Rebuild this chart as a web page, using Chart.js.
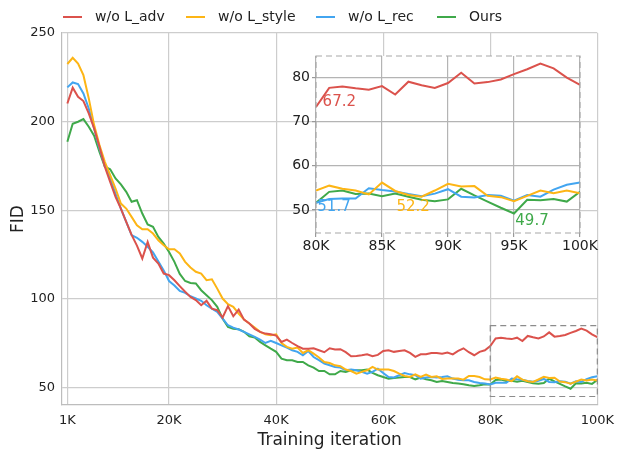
<!DOCTYPE html>
<html lang="en">
<head>
  <meta charset="UTF-8">
  <title>FID vs training iteration</title>
  <script src="https://cdn.jsdelivr.net/npm/chart.js"></script>
  <style>
    body { margin: 0; background: #fff; }
    #wrap { position: relative; width: 622px; height: 449px; }
    #inset { position: absolute; left: 270px; top: 40px; }
  </style>
</head>
<body>
  <div id="wrap">
    <canvas id="mainChart" width="622" height="449"></canvas>
    <canvas id="inset" width="330" height="215"></canvas>
  </div>

  <script>
    // iterations in thousands (1K ... 100K)
    const iterations = Array.from({length: 100}, (_, i) => i + 1);

    const seriesNames = ['w/o L_adv', 'w/o L_style', 'w/o L_rec', 'Ours'];
    const seriesColors = ['#db524c', '#fdb515', '#42a5f0', '#3fa94a'];

    const fidAdv = [
      210.2, 219.1, 214.0, 211.6, 204.6, 196.1, 185.8, 174.5, 166.0, 157.5,
      150.9, 143.4, 136.0, 130.0, 122.7, 132.1, 123.2, 119.8, 114.2, 113.3,
      110.4, 107.1, 103.9, 101.0, 99.2, 96.3, 98.8, 94.4, 93.5, 89.4,
      95.8, 90.1, 93.9, 88.2, 86.0, 83.0, 81.3, 80.3, 79.9, 79.2,
      75.6, 76.9, 75.0, 73.2, 71.8, 71.7, 72.0, 70.9, 69.8, 72.0,
      71.3, 71.5, 69.8, 67.5, 67.7, 68.1, 68.6, 67.5, 68.3, 70.5,
      70.9, 70.0, 70.5, 70.9, 69.4, 67.2, 68.6, 68.6, 69.4, 69.4,
      69.0, 69.6, 68.6, 70.5, 72.0, 69.8, 68.1, 70.0, 70.9, 73.3,
      77.6, 77.9, 77.5, 77.2, 78.0, 76.1, 79.0, 78.2, 77.6, 78.7,
      81.0, 78.6, 78.9, 79.5, 80.7, 81.8, 83.1, 82.0, 79.9, 78.3
    ];
    const fidStyle = [
      232.5, 236.0, 232.8, 226.2, 213.1, 198.0, 186.7, 177.3, 169.8, 162.2,
      153.7, 150.9, 146.2, 141.5, 139.2, 139.2, 136.8, 133.0, 130.2, 127.9,
      127.9, 125.5, 120.8, 117.6, 115.2, 114.2, 110.5, 111.0, 105.7, 100.1,
      96.9, 95.4, 91.6, 88.2, 86.0, 83.7, 81.3, 79.9, 79.4, 79.9,
      75.0, 72.8, 71.8, 72.4, 69.4, 70.9, 69.0, 66.8, 64.3, 63.7,
      62.4, 61.9, 60.0, 59.2, 57.7, 58.7, 59.6, 61.5, 60.0, 60.0,
      60.0, 59.2, 57.7, 56.4, 55.8, 57.3, 55.8, 57.2, 55.8, 56.2,
      54.7, 54.9, 54.9, 54.9, 54.3, 56.4, 56.4, 55.8, 54.5, 54.4,
      55.5, 54.8, 54.4, 53.5, 56.2, 54.3, 53.4, 53.0, 54.4, 55.9,
      55.3, 55.4, 53.2, 52.9, 52.0, 53.2, 54.4, 53.8, 54.4, 53.8
    ];
    const fidRec = [
      219.3, 222.1, 221.2, 215.9, 207.4, 196.1, 184.8, 175.4, 167.9, 159.4,
      150.9, 143.4, 135.9, 134.4, 132.1, 129.3, 126.1, 121.0, 116.0, 110.0,
      107.5, 104.4, 103.3, 101.4, 100.1, 98.8, 96.3, 94.4, 92.6, 88.8,
      85.0, 83.7, 82.6, 81.3, 79.9, 78.4, 76.9, 75.0, 76.2, 75.0,
      73.7, 72.4, 70.9, 70.0, 68.1, 70.5, 67.1, 65.3, 63.4, 62.4,
      61.5, 61.1, 59.6, 60.0, 59.6, 58.7, 57.7, 58.7, 60.5, 58.1,
      55.8, 55.5, 56.8, 58.1, 57.3, 56.8, 54.9, 55.5, 55.8, 55.5,
      55.8, 56.2, 54.9, 54.3, 54.0, 54.0, 53.0, 52.4, 52.1, 51.6,
      52.5, 52.6, 52.6, 54.9, 54.5, 54.2, 53.6, 53.1, 53.7, 54.7,
      53.0, 52.8, 53.4, 53.2, 52.1, 53.4, 53.0, 54.6, 55.7, 56.2
    ];
    const fidOurs = [
      188.6, 198.8, 199.9, 201.4, 197.1, 192.0, 182.9, 174.5, 173.1, 167.9,
      164.5, 160.3, 154.7, 155.6, 148.1, 141.9, 140.6, 134.9, 131.1, 126.4,
      120.8, 114.0, 110.0, 108.9, 108.6, 104.8, 102.0, 99.2, 95.4, 88.8,
      84.1, 83.1, 82.8, 81.3, 78.8, 78.1, 75.6, 73.7, 71.8, 70.0,
      66.2, 65.3, 65.3, 64.3, 64.3, 62.4, 61.1, 59.2, 59.2, 57.3,
      57.3, 59.2, 58.7, 59.6, 59.6, 59.6, 60.0, 58.1, 56.8, 55.8,
      54.9, 55.3, 55.5, 55.8, 55.8, 54.5, 55.5, 54.5, 54.0, 53.0,
      53.6, 53.0, 52.4, 52.1, 51.7, 51.1, 50.7, 51.1, 51.7, 51.6,
      54.1, 54.4, 53.6, 53.7, 53.1, 53.7, 53.0, 52.3, 52.0, 52.4,
      54.8, 53.3, 51.9, 50.5, 49.2, 52.3, 52.2, 52.5, 51.9, 54.1
    ];
    const seriesValues = [fidAdv, fidStyle, fidRec, fidOurs];

    const mainXTicks = [1, 20, 40, 60, 80, 100];
    const mainYTicks = [50, 100, 150, 200, 250];
    const insetXTicks = [80, 85, 90, 95, 100];
    const insetYTicks = [50, 60, 70, 80];
    const zoomRange = {x: [80, 100], y: [44.8, 84.8]};

    // min-value notes shown in the inset (series index gives the colour)
    const noteTexts = ['67.2', '51.7', '52.2', '49.7'];
    const noteSeries = [0, 2, 1, 3];
    const noteX = [80.5, 80.1, 86.1, 95.1];
    const noteY = [74.4, 50.7, 50.7, 47.6];

    const FONT = 'DejaVu Sans';
    Chart.defaults.font.family = FONT;
    Chart.defaults.color = '#222';

    function makeDatasets(xs, lo, hi) {
      return seriesNames.map((name, s) => ({
        label: name,
        data: xs.map((x, i) => ({x: x, y: seriesValues[s][i]})).filter(p => p.x >= lo && p.x <= hi),
        borderColor: seriesColors[s],
        backgroundColor: seriesColors[s],
        borderWidth: 2,
        pointRadius: 0,
        tension: 0,
        fill: false
      }));
    }

    // legend drawn along the top
    const legendPlugin = {
      id: 'topLegend',
      afterDraw(chart) {
        const ctx = chart.ctx;
        const starts = [63, 186, 316, 437];
        ctx.save();
        ctx.font = '14px ' + FONT;
        ctx.textBaseline = 'middle';
        ctx.textAlign = 'left';
        seriesNames.forEach((name, i) => {
          ctx.strokeStyle = seriesColors[i];
          ctx.lineWidth = 2;
          ctx.beginPath();
          ctx.moveTo(starts[i], 17);
          ctx.lineTo(starts[i] + 19, 17);
          ctx.stroke();
          ctx.fillStyle = '#222';
          ctx.fillText(name, starts[i] + 32, 17);
        });
        ctx.restore();
      }
    };

    // dashed box marking the zoomed region
    const zoomBoxPlugin = {
      id: 'zoomBox',
      afterDatasetsDraw(chart) {
        const {ctx, scales: {x, y}} = chart;
        const x0 = x.getPixelForValue(zoomRange.x[0]);
        const x1 = x.getPixelForValue(zoomRange.x[1]);
        const y0 = y.getPixelForValue(zoomRange.y[1]);
        const y1 = y.getPixelForValue(zoomRange.y[0]);
        ctx.save();
        ctx.strokeStyle = '#8c8c8c';
        ctx.lineWidth = 1.2;
        ctx.setLineDash([6, 4]);
        ctx.strokeRect(x0, y0, x1 - x0, y1 - y0);
        ctx.restore();
      }
    };

    new Chart(document.getElementById('mainChart'), {
      type: 'line',
      data: {datasets: makeDatasets(iterations, 0, 100)},
      options: {
        responsive: false,
        animation: false,
        devicePixelRatio: 1,
        layout: {padding: {top: 33, right: 20, left: 0, bottom: 0}},
        plugins: {legend: {display: false}, tooltip: {enabled: false}},
        scales: {
          x: {
            type: 'linear', min: 0, max: 100,
            afterBuildTicks: s => { s.ticks = mainXTicks.map(v => ({value: v})); },
            afterFit: s => { s.height = 44; },
            ticks: {callback: v => v + 'K', font: {size: 13}, maxRotation: 0, autoSkip: false, padding: 8},
            grid: {color: '#cdcdcd', lineWidth: 1.2, drawTicks: false},
            border: {color: '#bdbdbd', width: 1.2},
            title: {display: true, text: 'Training iteration', font: {size: 17, lineHeight: 1}, padding: 0}
          },
          y: {
            type: 'linear', min: 40, max: 250,
            afterBuildTicks: s => { s.ticks = mainYTicks.map(v => ({value: v})); },
            afterFit: s => { s.width = 62; },
            ticks: {font: {size: 13}, padding: 7},
            grid: {color: '#cdcdcd', lineWidth: 1.2, drawTicks: false},
            border: {color: '#bdbdbd', width: 1.2},
            title: {display: true, text: 'FID', font: {size: 17, lineHeight: 1}, padding: {top: 10, bottom: 0}}
          }
        }
      },
      plugins: [legendPlugin, zoomBoxPlugin]
    });

    // white plot face + dashed frame for the inset
    const insetFrame = {
      id: 'insetFrame',
      beforeDraw(chart) {
        const {ctx, chartArea: a} = chart;
        ctx.save();
        ctx.fillStyle = '#fff';
        ctx.fillRect(a.left, a.top, a.right - a.left, a.bottom - a.top);
        ctx.restore();
      },
      afterDraw(chart) {
        const {ctx, chartArea: a, scales: {x, y}} = chart;
        ctx.save();
        ctx.strokeStyle = '#a8a8a8';
        ctx.lineWidth = 1.2;
        ctx.setLineDash([6, 4]);
        ctx.strokeRect(a.left, a.top, a.right - a.left, a.bottom - a.top);
        ctx.setLineDash([]);
        ctx.font = '15px ' + FONT;
        ctx.textAlign = 'left';
        ctx.textBaseline = 'middle';
        noteTexts.forEach((t, i) => {
          ctx.fillStyle = seriesColors[noteSeries[i]];
          ctx.fillText(t, x.getPixelForValue(noteX[i]), y.getPixelForValue(noteY[i]));
        });
        ctx.restore();
      }
    };

    new Chart(document.getElementById('inset'), {
      type: 'line',
      data: {datasets: makeDatasets(iterations, 80, 100)},
      options: {
        responsive: false,
        animation: false,
        devicePixelRatio: 1,
        layout: {padding: {top: 16, right: 20, left: 0, bottom: 0}},
        plugins: {legend: {display: false}, tooltip: {enabled: false}},
        scales: {
          x: {
            type: 'linear', min: zoomRange.x[0], max: zoomRange.x[1],
            afterBuildTicks: s => { s.ticks = insetXTicks.map(v => ({value: v})); },
            afterFit: s => { s.height = 22; },
            ticks: {callback: v => v + 'K', font: {size: 14}, maxRotation: 0, autoSkip: false, padding: 1},
            grid: {color: '#b4b4b4', lineWidth: 1.2, borderDash: [6, 4], tickLength: 4, tickBorderDash: [], tickColor: '#999'},
            border: {display: false}
          },
          y: {
            type: 'linear', min: zoomRange.y[0], max: zoomRange.y[1],
            afterBuildTicks: s => { s.ticks = insetYTicks.map(v => ({value: v})); },
            afterFit: s => { s.width = 46; },
            ticks: {font: {size: 14}, padding: 2},
            grid: {color: '#b4b4b4', lineWidth: 1.2, borderDash: [6, 4], tickLength: 4, tickBorderDash: [], tickColor: '#999'},
            border: {display: false}
          }
        }
      },
      plugins: [insetFrame]
    });
  </script>
</body>
</html>
